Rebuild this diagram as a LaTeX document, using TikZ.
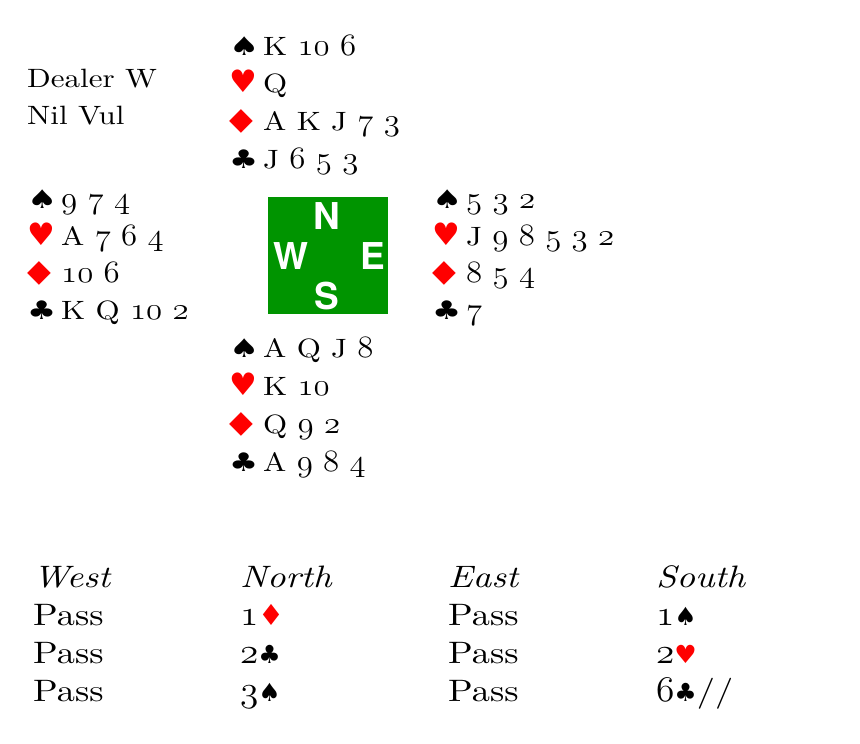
\documentclass[tikz,border=0pt]{standalone}
\usepackage{fontspec}
\setmainfont{lmroman10-regular.otf}[FakeStretch=1.17,ItalicFont=lmroman10-italic.otf]
\newfontfamily\suitfont{DejaVu Sans}
\newfontfamily\compassfont{TeX Gyre Heros}
\definecolor{tablegreen}{RGB}{0,148,0}
\definecolor{suitred}{RGB}{255,0,0}
% old style figures, from the math italic font
\newcommand{\os}[1]{\scalebox{1.32}[1.25]{$\mathnormal{#1}$}}
\newcommand{\osb}[1]{\scalebox{1.5}[1.45]{$\mathnormal{#1}$}}
% suit symbols in a hand
\newcommand{\hS}{\makebox[34pt][l]{\suitfont\fontsize{27}{30}\selectfont\scalebox{1.25}[0.95]{♠}}}
\newcommand{\hH}{\makebox[34pt][l]{\suitfont\fontsize{31}{30}\selectfont\color{suitred}♥}}
\newcommand{\hD}{\makebox[34pt][l]{\suitfont\fontsize{31}{30}\selectfont\color{suitred}\raisebox{1pt}{◆}}}
\newcommand{\hC}{\makebox[34pt][l]{\suitfont\fontsize{27}{30}\selectfont\scalebox{1.2}[0.95]{♣}}}
% suit symbols in a bid
\newcommand{\bS}{{\suitfont\fontsize{25}{22}\selectfont ♠}}
\newcommand{\bH}{{\suitfont\fontsize{25}{22}\selectfont\color{suitred}♥}}
\newcommand{\bD}{{\suitfont\fontsize{29}{22}\selectfont\color{suitred}♦}}
\newcommand{\bC}{{\suitfont\fontsize{25}{22}\selectfont ♣}}
\begin{document}
\begin{tikzpicture}[x=1pt,y=-1pt,
        hand/.style={anchor=base west,inner sep=0pt,font=\fontsize{26.5}{30}\selectfont},
        bid/.style={anchor=base west,inner sep=0pt,font=\fontsize{31}{36}\selectfont},
        compass/.style={text=white,inner sep=0pt,font=\compassfont\bfseries\fontsize{37}{38}\selectfont}]
        \useasboundingbox (0,0) rectangle (860,744);

        % board info
        \node[hand] (dealer) at (27,87) {Dealer W};
        \node[hand] (vul) at (27,124) {Nil Vul};

        % north
        \node[hand] (nS) at (229,55) {\hS K \os{10} \os{6}};
        \node[hand] (nH) at (229,92) {\hH Q};
        \node[hand] (nD) at (229,130) {\hD A K J \os{7} \os{3}};
        \node[hand] (nC) at (229,168) {\hC J \os{6} \os{5} \os{3}};

        % west
        \node[hand] (wS) at (27,208) {\hS \os{9} \os{7} \os{4}};
        \node[hand] (wH) at (27,245) {\hH A \os{7} \os{6} \os{4}};
        \node[hand] (wD) at (27,282) {\hD \os{10} \os{6}};
        \node[hand] (wC) at (27,319) {\hC K Q \os{10} \os{2}};

        % east
        \node[hand] (eS) at (432,208) {\hS \os{5} \os{3} \os{2}};
        \node[hand] (eH) at (432,245) {\hH J \os{9} \os{8} \os{5} \os{3} \os{2}};
        \node[hand] (eD) at (432,282) {\hD \os{8} \os{5} \os{4}};
        \node[hand] (eC) at (432,319) {\hC \os{7}};

        % south
        \node[hand] (sS) at (229,357) {\hS A Q J \os{8}};
        \node[hand] (sH) at (229,395) {\hH K \os{10}};
        \node[hand] (sD) at (229,433) {\hD Q \os{9} \os{2}};
        \node[hand] (sC) at (229,471) {\hC A \os{9} \os{8} \os{4}};

        % table
        \fill[tablegreen] (268,197) rectangle (388,314);
        \node[compass] (cN) at (327,216) {N};
        \node[compass] (cW) at (291,256) {W};
        \node[compass] (cE) at (373,256) {E};
        \node[compass] (cS) at (327,296) {S};

        % auction heading
        \node[bid] (aW) at (33,587) {\itshape West};
        \node[bid] (aN) at (240,587) {\itshape North};
        \node[bid] (aE) at (448,587) {\itshape East};
        \node[bid] (aS) at (656,587) {\itshape South};

        % round 1
        \node[bid] (w1) at (33,625) {Pass};
        \node[bid] (n1) at (240,625) {\osb{1}\bD};
        \node[bid] (e1) at (448,625) {Pass};
        \node[bid] (s1) at (656,625) {\osb{1}\bS};

        % round 2
        \node[bid] (w2) at (33,663) {Pass};
        \node[bid] (n2) at (240,663) {\osb{2}\bC};
        \node[bid] (e2) at (448,663) {Pass};
        \node[bid] (s2) at (656,663) {\osb{2}\bH};

        % round 3
        \node[bid] (w3) at (33,701) {Pass};
        \node[bid] (n3) at (240,701) {\osb{3}\bS};
        \node[bid] (e3) at (448,701) {Pass};
        \node[bid] (s3) at (656,701) {\osb{6}\bC//};
\end{tikzpicture}
\end{document}
